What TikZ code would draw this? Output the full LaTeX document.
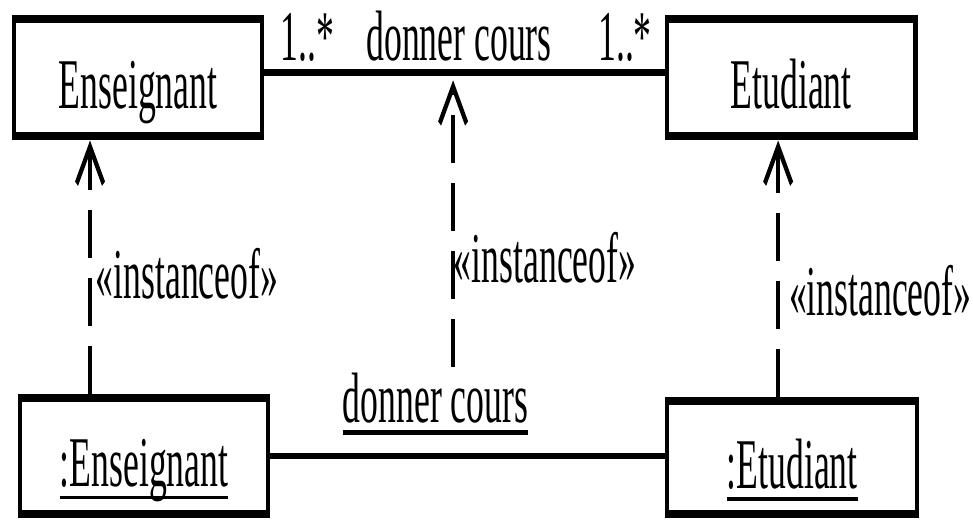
\documentclass[tikz,border=0pt]{standalone}
\usepackage{fontspec}
\setmainfont{Liberation Serif}
\usetikzlibrary{arrows.meta}
\newcommand{\undl}[2][1pt]{\setbox0\hbox{#2}\rlap{\rule[\dimexpr-3pt-#1/2\relax]{\wd0}{#1}}\box0}

\begin{document}
\begin{tikzpicture}[
  every node/.style={font=\fontsize{20.3}{24}\selectfont},
  classbox/.style={draw, line width=2.4pt, minimum width=4.97cm, minimum height=1.17cm,
    text height=17.5pt, text depth=0pt, inner sep=0pt},
  lbl/.style={inner sep=0pt},
  assoc/.style={line width=1.9pt},
  inst/.style={line width=2.1pt, dash pattern=on 0.48cm off 0.2cm,
    -{Straight Barb[length=0.37cm,width=0.54cm]}}]
 \useasboundingbox (0,0) rectangle (19.46,10.38);
 \begin{scope}[x=0.02cm, y=0.01cm, transform canvas={yscale=2}]
 \node[classbox] (ens) at (138,441.5) {Enseignant};
 \node[classbox] (etu) at (791,441.5) {Etudiant};
 \node[classbox, minimum height=1.16cm] (oens) at (144,63) {\undl{:Enseignant}};
 \node[classbox, minimum width=5cm, minimum height=1.13cm] (oetu) at (792,61.5) {\undl{:Etudiant}};
 \node[lbl, anchor=base west] (m1) at (280,459) {1..*};
 \node[lbl, anchor=base] (dc) at (459,459) {donner cours};
 \node[lbl, anchor=base east] (m2) at (652,459) {1..*};
 \node[lbl, anchor=base] (io1) at (187,221) {«instanceof»};
 \node[lbl, anchor=base] (io2) at (545,237) {«instanceof»};
 \node[lbl, anchor=base] (io3) at (880,204) {«instanceof»};
 \node[lbl, anchor=base, inner sep=1.5pt] (dcl) at (435.5,97) {\undl[1.6pt]{donner cours}};
 \coordinate (lx) at (90,0);
 \coordinate (rx) at (778,0);
 \coordinate (mid) at (453,447);
 \draw[assoc] ([yshift=0.55mm]ens.east) -- ([yshift=0.55mm]etu.west);
 \draw[assoc] (oens.east) -- (oens.east -| oetu.west);
 \draw[inst] (oens.north -| lx) -- (ens.south -| lx);
 \draw[inst] (oetu.north -| rx) -- (etu.south -| rx);
 \draw[inst, shorten >=0.8mm] (dcl.north -| mid) -- (mid);
 \end{scope}
\end{tikzpicture}
\end{document}
